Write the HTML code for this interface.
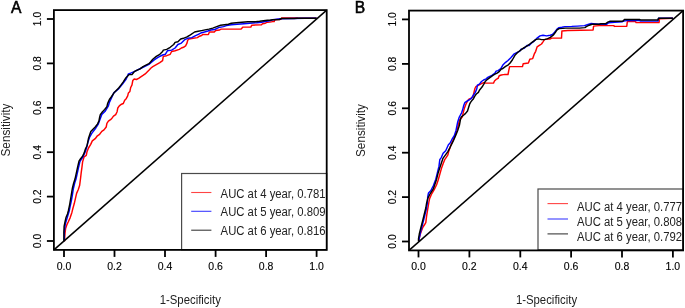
<!DOCTYPE html>
<html><head><meta charset="utf-8"><style>
html,body{margin:0;padding:0;background:#fff;}
svg{display:block;will-change:transform;}
text{font-family:"Liberation Sans",sans-serif;}
.tk{font-size:10.1px;fill:#000;stroke:#000;stroke-width:0.12px;}
.lab{font-size:12.4px;fill:#222;}
.lg{font-size:12.3px;fill:#222;}
.let{font-size:15.6px;fill:#000;stroke:#000;stroke-width:0.55px;}
</style></head><body>
<svg width="685" height="308" viewBox="0 0 685 308">
<rect width="685" height="308" fill="#fff"/>
<polyline points="64.6,241.3 64.6,238.8 65.0,233.7 65.6,228.5 66.8,224.9 68.2,222.0 70.2,217.6 71.9,212.4 73.0,208.0 74.2,203.8 75.4,198.6 76.6,193.4 78.3,189.5 79.6,185.6 80.6,178.0 81.2,172.6 81.9,167.7 82.6,161.9 84.1,156.8 86.3,155.3 87.0,151.7 88.5,148.0 90.7,144.4 92.3,140.9 95.2,138.7 97.4,135.8 99.6,134.3 101.8,131.4 104.0,129.9 106.2,127.0 106.9,123.4 108.4,121.2 110.5,119.7 112.0,118.2 113.5,116.1 115.7,114.6 117.1,111.7 117.8,108.0 119.3,105.8 121.5,104.2 123.3,103.5 124.7,100.2 126.2,98.7 127.7,95.8 128.4,92.9 129.9,91.4 130.6,87.8 132.0,84.9 132.8,80.5 134.2,79.0 136.4,79.5 138.6,78.3 140.8,76.8 143.0,75.4 145.2,73.9 147.4,71.7 148.9,70.2 151.0,68.0 152.8,66.7 156.3,64.7 159.8,62.7 162.6,60.6 163.3,56.4 166.7,55.7 170.2,54.3 171.6,51.5 175.1,50.8 179.3,49.4 181.4,48.0 183.5,47.3 185.6,45.9 187.0,43.1 187.7,40.3 189.0,39.0 193.2,38.3 197.4,37.6 199.5,36.2 201.6,35.5 203.0,34.4 208.4,34.6 209.4,32.0 214.3,32.0 215.7,30.5 219.6,30.0 221.1,29.1 241.1,29.1 243.0,27.1 250.8,27.1 251.8,25.2 261.5,24.7 262.5,23.7 265.4,23.2 267.4,22.2 269.8,22.1 272.7,21.6 274.2,21.6 274.7,19.7 281.0,19.3 281.5,17.9 297.1,17.9 298.0,18.2 316.6,18.2" fill="none" stroke="#f00" stroke-width="1.45" stroke-linejoin="round"/>
<polyline points="64.3,241.3 64.3,232.0 65.3,224.0 66.8,219.0 68.0,215.0 69.2,211.0 70.2,206.0 71.2,201.5 72.2,196.0 73.4,188.5 74.7,183.0 76.0,179.0 77.2,173.7 78.4,168.0 79.8,162.0 81.5,159.0 83.4,156.0 85.0,152.5 86.4,148.5 87.9,142.3 89.5,137.5 91.6,133.6 96.0,127.7 98.3,124.0 99.6,120.4 101.8,114.6 105.4,110.9 108.4,105.8 109.4,102.4 113.8,92.9 118.2,89.2 122.5,84.1 126.2,79.0 128.4,73.9 130.6,73.2 134.2,71.7 141.5,68.0 148.9,64.4 151.5,62.2 154.2,59.9 158.4,57.1 162.6,55.0 165.3,54.3 167.4,50.8 171.6,50.1 175.1,48.0 177.9,44.5 181.4,43.1 184.9,39.6 187.7,38.3 191.8,37.6 194.6,36.2 198.8,34.1 201.6,32.7 204.4,32.0 207.9,31.0 210.8,30.0 214.7,29.5 218.6,27.6 223.5,26.6 226.4,25.6 231.3,24.7 237.2,24.2 244.0,23.7 249.8,23.2 256.7,22.7 261.5,22.2 266.4,21.3 269.8,20.7 272.7,19.7 280.5,18.7 304.9,18.2 316.6,18.2" fill="none" stroke="#00f" stroke-width="1.45" stroke-linejoin="round"/>
<polyline points="64.0,241.3 63.9,239.5 63.9,232.2 64.1,226.4 65.0,222.0 66.0,217.6 67.5,213.9 68.5,210.2 69.4,205.9 69.8,203.8 71.1,196.0 72.4,188.2 73.7,183.0 75.0,179.1 76.2,173.7 77.5,167.7 79.0,161.2 80.4,159.0 82.6,156.1 84.1,153.1 85.5,148.8 87.0,145.8 88.6,138.0 90.8,131.4 93.0,129.2 95.2,127.0 97.4,124.1 98.9,121.2 99.6,117.5 100.3,114.6 102.5,111.7 104.7,109.5 106.9,106.6 107.6,103.6 109.4,99.5 111.6,96.5 114.5,92.2 116.7,90.0 118.9,87.8 121.1,84.9 123.3,81.9 125.5,78.3 127.7,76.1 129.1,74.6 132.0,74.6 134.2,71.7 137.2,70.2 140.1,68.8 143.0,66.6 145.9,65.1 148.9,63.7 150.5,62.0 152.8,59.2 156.3,56.4 159.8,54.3 162.6,51.5 163.3,50.1 166.7,49.4 170.2,47.3 173.7,44.5 175.1,42.4 177.9,41.7 180.7,39.0 183.5,38.3 187.0,36.9 190.4,34.8 194.6,32.0 198.1,31.3 201.6,30.6 205.0,29.9 208.9,29.1 212.8,28.1 216.7,26.6 220.6,25.2 224.5,24.7 228.4,24.2 231.3,23.2 236.2,22.7 242.0,22.2 247.9,21.7 255.7,21.7 259.6,21.3 263.5,20.8 267.4,20.3 269.8,20.2 272.7,19.7 279.5,19.5 281.5,18.5 294.2,18.5 297.1,18.2 316.6,18.2" fill="none" stroke="#000" stroke-width="1.45" stroke-linejoin="round"/>
<line x1="53.9" y1="249.9" x2="326.7" y2="10.1" stroke="#000" stroke-width="1.5"/>
<rect x="181.6" y="173.5" width="145.1" height="76.30000000000001" fill="#fff" stroke="#4a4a4a" stroke-width="1.2"/>
<line x1="191.2" y1="192.5" x2="211.4" y2="192.5" stroke="#ff4444" stroke-width="1.1"/>
<text x="220.6" y="197.6" class="lg" textLength="105" lengthAdjust="spacingAndGlyphs">AUC at 4 year, 0.781</text>
<line x1="191.2" y1="211.3" x2="211.4" y2="211.3" stroke="#3c3cff" stroke-width="1.1"/>
<text x="220.6" y="216.4" class="lg" textLength="105" lengthAdjust="spacingAndGlyphs">AUC at 5 year, 0.809</text>
<line x1="191.2" y1="230.2" x2="211.4" y2="230.2" stroke="#3a3a3a" stroke-width="1.1"/>
<text x="220.6" y="235.1" class="lg" textLength="105" lengthAdjust="spacingAndGlyphs">AUC at 6 year, 0.816</text>
<rect x="53.9" y="10.1" width="272.8" height="239.8" fill="none" stroke="#000" stroke-width="1.8"/>
<line x1="46.9" y1="241.0" x2="53.9" y2="241.0" stroke="#000" stroke-width="1.8"/>
<text transform="translate(40.5,241.0) rotate(-90)" text-anchor="middle" class="tk" textLength="14.4" lengthAdjust="spacingAndGlyphs">0.0</text>
<line x1="64.0" y1="249.9" x2="64.0" y2="256.9" stroke="#000" stroke-width="1.8"/>
<text x="64.0" y="270.0" text-anchor="middle" class="tk" textLength="14.6" lengthAdjust="spacingAndGlyphs">0.0</text>
<line x1="46.9" y1="196.6" x2="53.9" y2="196.6" stroke="#000" stroke-width="1.8"/>
<text transform="translate(40.5,196.6) rotate(-90)" text-anchor="middle" class="tk" textLength="14.4" lengthAdjust="spacingAndGlyphs">0.2</text>
<line x1="114.5" y1="249.9" x2="114.5" y2="256.9" stroke="#000" stroke-width="1.8"/>
<text x="114.5" y="270.0" text-anchor="middle" class="tk" textLength="14.6" lengthAdjust="spacingAndGlyphs">0.2</text>
<line x1="46.9" y1="152.2" x2="53.9" y2="152.2" stroke="#000" stroke-width="1.8"/>
<text transform="translate(40.5,152.2) rotate(-90)" text-anchor="middle" class="tk" textLength="14.4" lengthAdjust="spacingAndGlyphs">0.4</text>
<line x1="165.0" y1="249.9" x2="165.0" y2="256.9" stroke="#000" stroke-width="1.8"/>
<text x="165.0" y="270.0" text-anchor="middle" class="tk" textLength="14.6" lengthAdjust="spacingAndGlyphs">0.4</text>
<line x1="46.9" y1="107.8" x2="53.9" y2="107.8" stroke="#000" stroke-width="1.8"/>
<text transform="translate(40.5,107.8) rotate(-90)" text-anchor="middle" class="tk" textLength="14.4" lengthAdjust="spacingAndGlyphs">0.6</text>
<line x1="215.6" y1="249.9" x2="215.6" y2="256.9" stroke="#000" stroke-width="1.8"/>
<text x="215.6" y="270.0" text-anchor="middle" class="tk" textLength="14.6" lengthAdjust="spacingAndGlyphs">0.6</text>
<line x1="46.9" y1="63.4" x2="53.9" y2="63.4" stroke="#000" stroke-width="1.8"/>
<text transform="translate(40.5,63.4) rotate(-90)" text-anchor="middle" class="tk" textLength="14.4" lengthAdjust="spacingAndGlyphs">0.8</text>
<line x1="266.1" y1="249.9" x2="266.1" y2="256.9" stroke="#000" stroke-width="1.8"/>
<text x="266.1" y="270.0" text-anchor="middle" class="tk" textLength="14.6" lengthAdjust="spacingAndGlyphs">0.8</text>
<line x1="46.9" y1="19.0" x2="53.9" y2="19.0" stroke="#000" stroke-width="1.8"/>
<text transform="translate(40.5,19.0) rotate(-90)" text-anchor="middle" class="tk" textLength="14.4" lengthAdjust="spacingAndGlyphs">1.0</text>
<line x1="316.6" y1="249.9" x2="316.6" y2="256.9" stroke="#000" stroke-width="1.8"/>
<text x="316.6" y="270.0" text-anchor="middle" class="tk" textLength="14.6" lengthAdjust="spacingAndGlyphs">1.0</text>
<text x="190.3" y="304" text-anchor="middle" class="lab" textLength="61.2" lengthAdjust="spacingAndGlyphs">1-Specificity</text>
<text transform="translate(10.3,130.0) rotate(-90)" text-anchor="middle" class="lab" textLength="53" lengthAdjust="spacingAndGlyphs">Sensitivity</text>
<text x="10.9" y="12.8" class="let">A</text>
<polyline points="418.7,241.3 419.5,237.0 421.0,232.0 423.0,227.0 425.0,224.0 425.8,222.6 426.6,216.1 427.4,211.2 428.2,206.4 429.0,201.5 429.6,198.6 431.7,193.8 434.2,189.7 436.6,184.8 438.2,180.0 439.8,174.3 441.4,168.6 443.1,163.8 444.7,159.7 446.3,157.3 447.9,154.9 448.7,151.4 451.0,144.8 454.4,137.2 456.9,130.4 459.4,120.3 462.2,117.1 463.2,112.8 464.3,108.6 465.9,104.3 467.5,101.1 468.6,99.5 470.7,98.4 472.9,96.8 474.8,88.8 475.8,86.7 477.9,85.7 480.5,84.1 483.6,82.6 485.7,83.1 493.5,83.1 494.5,81.0 496.1,79.4 498.1,78.4 499.2,75.8 501.3,75.0 503.5,74.6 504.8,74.5 508.0,74.5 508.8,70.4 509.6,66.6 522.5,66.6 523.2,63.7 528.4,63.0 529.8,59.3 532.7,58.6 534.2,54.2 535.7,51.3 537.1,46.9 539.3,45.4 541.5,44.0 543.0,41.8 544.4,39.6 547.3,38.9 550.3,38.9 551.7,38.1 561.5,38.1 561.9,31.0 567.8,30.5 593.1,30.0 593.6,26.1 599.0,25.6 613.6,25.6 614.6,26.4 626.8,26.2 627.3,21.6 635.6,21.6 636.1,22.6 659.0,22.6 659.5,18.7 672.9,18.2" fill="none" stroke="#f00" stroke-width="1.45" stroke-linejoin="round"/>
<polyline points="418.7,241.3 419.3,238.0 420.1,234.0 421.7,227.5 423.4,221.0 425.0,214.5 426.6,208.0 427.4,203.0 427.7,197.0 428.5,192.9 430.9,190.5 433.3,185.7 435.8,179.2 437.4,172.7 439.0,166.2 439.8,159.7 441.4,157.3 443.1,153.2 445.7,150.7 448.4,144.8 450.1,143.1 451.8,139.7 454.4,135.5 456.0,130.4 457.7,122.0 459.3,117.0 461.6,112.8 462.7,109.6 463.8,105.3 464.8,102.7 467.0,101.1 469.1,100.0 471.6,98.1 473.2,95.5 475.3,92.4 476.8,88.8 477.4,85.2 479.4,84.1 481.5,81.5 483.6,80.0 486.2,78.9 487.8,77.4 489.8,76.3 491.9,75.3 495.0,73.2 496.1,71.1 498.1,70.6 500.2,69.0 500.7,68.8 503.1,64.7 505.6,62.3 508.0,60.5 510.8,57.8 513.8,54.2 516.7,52.7 519.6,51.3 521.1,49.1 524.0,48.4 526.9,45.4 529.1,45.4 531.3,43.2 534.2,41.1 537.1,38.1 540.0,35.9 543.0,35.2 546.6,35.9 550.3,35.2 552.4,34.5 554.6,32.3 556.8,29.4 559.0,27.6 561.9,27.2 564.9,26.6 571.7,26.4 577.5,26.1 584.4,25.6 587.3,24.7 591.2,23.5 593.1,23.7 599.0,24.2 606.8,24.2 608.7,22.7 614.6,22.2 622.4,21.7 623.9,21.0 626.8,20.6 639.5,20.6 640.5,21.1 658.0,21.1 658.5,18.2 672.9,18.2" fill="none" stroke="#00f" stroke-width="1.45" stroke-linejoin="round"/>
<polyline points="418.5,241.3 418.5,238.8 419.3,234.0 420.9,227.5 422.6,221.0 424.2,214.5 425.8,208.0 426.6,203.1 427.8,198.4 430.1,193.8 431.7,191.3 433.3,188.9 435.0,184.0 436.6,179.2 438.2,172.7 439.8,167.8 441.4,163.0 443.1,158.1 445.5,154.9 447.7,151.8 450.1,147.3 451.8,143.9 453.5,140.5 456.0,134.6 457.7,130.4 459.4,125.3 460.3,120.3 461.1,117.1 463.8,115.0 465.6,113.4 467.5,111.0 468.5,107.7 469.6,104.2 470.7,102.1 472.3,100.0 473.2,99.2 474.8,96.1 476.3,94.0 478.4,92.4 479.4,90.3 481.0,88.3 482.6,86.2 484.1,83.6 485.2,81.5 486.7,80.0 488.8,78.4 490.9,76.8 492.9,75.3 495.0,74.2 497.1,73.2 499.2,71.6 501.3,69.0 502.3,68.8 505.6,66.4 508.3,64.8 510.1,63.0 512.3,60.0 515.2,54.9 518.1,52.0 521.1,49.8 524.0,47.6 526.9,46.2 529.8,44.0 532.7,41.8 535.7,39.6 538.6,38.9 541.5,39.6 544.4,39.6 547.3,38.9 550.3,37.4 553.2,35.2 555.4,32.3 556.8,30.1 559.0,28.6 562.9,28.4 565.8,28.1 579.5,28.1 584.9,27.6 586.3,26.6 589.2,25.2 592.2,24.2 599.0,24.2 600.9,23.7 605.8,23.7 607.8,22.2 609.7,21.3 622.4,21.3 623.8,20.3 624.4,19.5 639.5,19.5 640.5,19.9 658.0,19.9 658.5,18.2 672.9,18.2" fill="none" stroke="#000" stroke-width="1.45" stroke-linejoin="round"/>
<line x1="409.0" y1="250.4" x2="683.1" y2="10.6" stroke="#000" stroke-width="1.5"/>
<rect x="538.0" y="189.0" width="145.10000000000002" height="60.80000000000001" fill="#fff" stroke="#4a4a4a" stroke-width="1.2"/>
<line x1="547.5" y1="203.6" x2="568.0" y2="203.6" stroke="#ff4444" stroke-width="1.1"/>
<text x="577.0" y="211.1" class="lg" textLength="105" lengthAdjust="spacingAndGlyphs">AUC at 4 year, 0.777</text>
<line x1="547.5" y1="219.0" x2="568.0" y2="219.0" stroke="#3c3cff" stroke-width="1.1"/>
<text x="577.0" y="226.3" class="lg" textLength="105" lengthAdjust="spacingAndGlyphs">AUC at 5 year, 0.808</text>
<line x1="547.5" y1="233.9" x2="568.0" y2="233.9" stroke="#3a3a3a" stroke-width="1.1"/>
<text x="577.0" y="241.2" class="lg" textLength="105" lengthAdjust="spacingAndGlyphs">AUC at 6 year, 0.792</text>
<rect x="409.0" y="10.6" width="274.1" height="239.8" fill="none" stroke="#000" stroke-width="1.8"/>
<line x1="402.0" y1="241.5" x2="409.0" y2="241.5" stroke="#000" stroke-width="1.8"/>
<text transform="translate(395.9,241.5) rotate(-90)" text-anchor="middle" class="tk" textLength="14.4" lengthAdjust="spacingAndGlyphs">0.0</text>
<line x1="418.5" y1="250.4" x2="418.5" y2="257.4" stroke="#000" stroke-width="1.8"/>
<text x="418.5" y="270.0" text-anchor="middle" class="tk" textLength="14.6" lengthAdjust="spacingAndGlyphs">0.0</text>
<line x1="402.0" y1="197.1" x2="409.0" y2="197.1" stroke="#000" stroke-width="1.8"/>
<text transform="translate(395.9,197.1) rotate(-90)" text-anchor="middle" class="tk" textLength="14.4" lengthAdjust="spacingAndGlyphs">0.2</text>
<line x1="469.4" y1="250.4" x2="469.4" y2="257.4" stroke="#000" stroke-width="1.8"/>
<text x="469.4" y="270.0" text-anchor="middle" class="tk" textLength="14.6" lengthAdjust="spacingAndGlyphs">0.2</text>
<line x1="402.0" y1="152.7" x2="409.0" y2="152.7" stroke="#000" stroke-width="1.8"/>
<text transform="translate(395.9,152.7) rotate(-90)" text-anchor="middle" class="tk" textLength="14.4" lengthAdjust="spacingAndGlyphs">0.4</text>
<line x1="520.3" y1="250.4" x2="520.3" y2="257.4" stroke="#000" stroke-width="1.8"/>
<text x="520.3" y="270.0" text-anchor="middle" class="tk" textLength="14.6" lengthAdjust="spacingAndGlyphs">0.4</text>
<line x1="402.0" y1="108.3" x2="409.0" y2="108.3" stroke="#000" stroke-width="1.8"/>
<text transform="translate(395.9,108.3) rotate(-90)" text-anchor="middle" class="tk" textLength="14.4" lengthAdjust="spacingAndGlyphs">0.6</text>
<line x1="571.1" y1="250.4" x2="571.1" y2="257.4" stroke="#000" stroke-width="1.8"/>
<text x="571.1" y="270.0" text-anchor="middle" class="tk" textLength="14.6" lengthAdjust="spacingAndGlyphs">0.6</text>
<line x1="402.0" y1="63.9" x2="409.0" y2="63.9" stroke="#000" stroke-width="1.8"/>
<text transform="translate(395.9,63.9) rotate(-90)" text-anchor="middle" class="tk" textLength="14.4" lengthAdjust="spacingAndGlyphs">0.8</text>
<line x1="622.0" y1="250.4" x2="622.0" y2="257.4" stroke="#000" stroke-width="1.8"/>
<text x="622.0" y="270.0" text-anchor="middle" class="tk" textLength="14.6" lengthAdjust="spacingAndGlyphs">0.8</text>
<line x1="402.0" y1="19.4" x2="409.0" y2="19.4" stroke="#000" stroke-width="1.8"/>
<text transform="translate(395.9,19.4) rotate(-90)" text-anchor="middle" class="tk" textLength="14.4" lengthAdjust="spacingAndGlyphs">1.0</text>
<line x1="672.9" y1="250.4" x2="672.9" y2="257.4" stroke="#000" stroke-width="1.8"/>
<text x="672.9" y="270.0" text-anchor="middle" class="tk" textLength="14.6" lengthAdjust="spacingAndGlyphs">1.0</text>
<text x="546.5" y="304" text-anchor="middle" class="lab" textLength="61.2" lengthAdjust="spacingAndGlyphs">1-Specificity</text>
<text transform="translate(365.4,130.5) rotate(-90)" text-anchor="middle" class="lab" textLength="53" lengthAdjust="spacingAndGlyphs">Sensitivity</text>
<text x="354.7" y="12.8" class="let">B</text>
</svg>
</body></html>
